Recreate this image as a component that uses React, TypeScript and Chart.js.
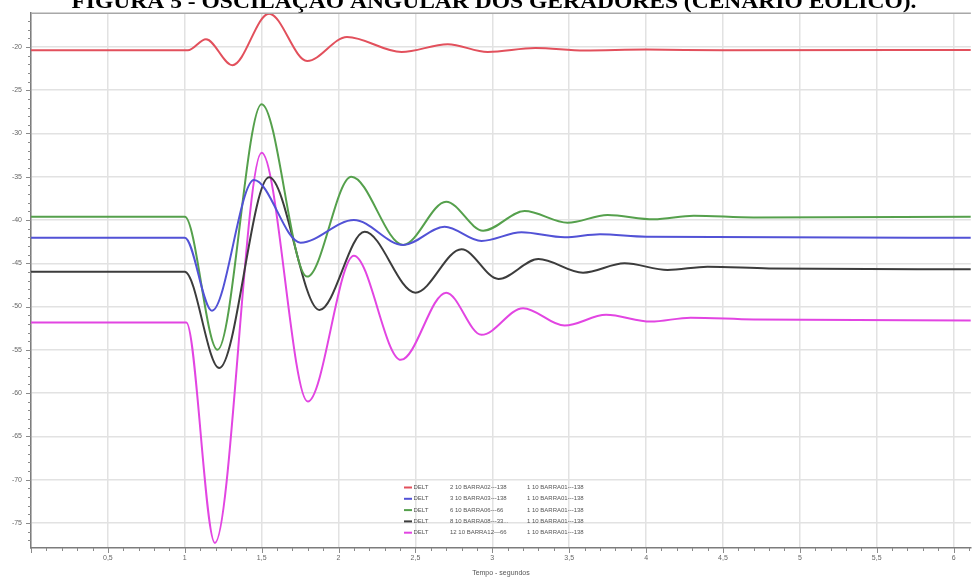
import React, { useEffect, useRef } from "react";
import { Chart, registerables } from "chart.js";

Chart.register(...registerables);

const TITLE = "FIGURA 5 - OSCILAÇÃO ANGULAR DOS GERADORES (CENÁRIO EÓLICO).";
const X_TITLE = "Tempo - segundos";

// Time axis range (s) and angle axis range (graus)
const X_MIN = 0;
const X_MAX = 6.112;
const Y_MIN = -77.9;
const Y_MAX = -16.1;

// DELT 2 10 BARRA02---138
const redT = [0, 1.02, 1.138, 1.31, 1.548, 1.796, 2.055, 2.41, 2.71, 2.97, 3.28, 3.6, 4.0, 4.5, 6.112];
const redV = [-20.38, -20.38, -19.11, -22.11, -16.15, -21.62, -18.85, -20.58, -19.69, -20.58, -20.12, -20.4, -20.3, -20.38, -20.35];

// DELT 3 10 BARRA03---138
const blueT = [0, 1.0, 1.177, 1.45, 1.753, 2.1, 2.42, 2.69, 2.93, 3.19, 3.47, 3.7, 4.0, 6.112];
const blueV = [-42.04, -42.04, -50.47, -35.38, -42.62, -40.0, -42.88, -40.77, -42.42, -41.42, -42.0, -41.65, -41.93, -42.04];

// DELT 6 10 BARRA06---66
const greenT = [0, 1.0, 1.213, 1.5, 1.796, 2.083, 2.42, 2.7, 2.94, 3.21, 3.49, 3.75, 4.05, 4.31, 4.7, 6.112];
const greenV = [-39.62, -39.62, -55.0, -26.61, -46.54, -35.0, -42.88, -37.89, -41.23, -38.96, -40.31, -39.42, -39.92, -39.5, -39.7, -39.62];

// DELT 8 10 BARRA08---33
const blackT = [0, 1.0, 1.224, 1.548, 1.876, 2.17, 2.5, 2.8, 3.04, 3.3, 3.59, 3.86, 4.14, 4.4, 4.8, 6.112];
const blackV = [-45.97, -45.97, -57.11, -35.07, -50.39, -41.35, -48.39, -43.38, -46.81, -44.5, -46.08, -45.0, -45.77, -45.39, -45.6, -45.69];

// DELT 12 10 BARRA12---66
const magentaT = [0, 1.01, 1.196, 1.5, 1.8, 2.1, 2.405, 2.7, 2.93, 3.2, 3.47, 3.74, 4.03, 4.29, 4.7, 6.112];
const magentaV = [-51.85, -51.85, -77.31, -32.23, -60.97, -44.12, -56.16, -48.39, -53.27, -50.19, -52.2, -50.96, -51.74, -51.28, -51.5, -51.6];

const VARIABLE = "DELT";
const LEGEND_FROM = [
  "2 10 BARRA02---138",
  "3 10 BARRA03---138",
  "6 10 BARRA06---66",
  "8 10 BARRA08---33...",
  "12 10 BARRA12---66",
];
const LEGEND_TO = [
  "1 10 BARRA01---138",
  "1 10 BARRA01---138",
  "1 10 BARRA01---138",
  "1 10 BARRA01---138",
  "1 10 BARRA01---138",
];
const COLORS = ["#e2505c", "#5252d6", "#55a04c", "#3c3c3c", "#e245e2"];

const SERIES = [
  [redT, redV],
  [blueT, blueV],
  [greenT, greenV],
  [blackT, blackV],
  [magentaT, magentaV],
];

const isMultiple = (v: number, step: number) => Math.abs(v / step - Math.round(v / step)) < 1e-6;
const fmt = (v: number) => String(Math.round(v * 100) / 100).replace(".", ",");

const decorPlugin = {
  id: "decor",
  beforeDraw(chart: any) {
    const ctx = chart.ctx;
    ctx.save();
    ctx.fillStyle = "#000";
    ctx.font = 'bold 20px "Liberation Serif", serif';
    ctx.textAlign = "center";
    ctx.textBaseline = "alphabetic";
    const w = ctx.measureText(TITLE).width;
    ctx.translate(494, 8);
    ctx.scale(845 / w, 1);
    ctx.fillText(TITLE, 0, 0);
    ctx.restore();
  },
  afterDraw(chart: any) {
    const ctx = chart.ctx;
    const area = chart.chartArea;
    const xs = chart.scales.x;
    const ys = chart.scales.y;
    ctx.save();
    // top frame line
    ctx.strokeStyle = "#a8a8a8";
    ctx.lineWidth = 1.5;
    ctx.beginPath();
    ctx.moveTo(area.left, area.top);
    ctx.lineTo(area.right, area.top);
    ctx.stroke();
    // tick marks, longer on labelled ticks
    ctx.strokeStyle = "#8a8a8a";
    ctx.lineWidth = 1;
    ctx.beginPath();
    xs.ticks.forEach((t: any) => {
      const px = Math.round(xs.getPixelForValue(t.value)) + 0.5;
      const len = isMultiple(t.value, 0.5) ? 5 : 3;
      ctx.moveTo(px, area.bottom);
      ctx.lineTo(px, area.bottom + len);
    });
    ys.ticks.forEach((t: any) => {
      const py = Math.round(ys.getPixelForValue(t.value)) + 0.5;
      const len = isMultiple(t.value, 5) ? 5 : 3;
      ctx.moveTo(area.left - len, py);
      ctx.lineTo(area.left, py);
    });
    ctx.stroke();

    // legend block
    const rowY0 = 487.5;
    const rowGap = 11.3;
    ctx.font = '6px "Liberation Sans", sans-serif';
    ctx.textBaseline = "middle";
    ctx.textAlign = "left";
    LEGEND_FROM.forEach((from, i) => {
      const y = rowY0 + i * rowGap;
      ctx.strokeStyle = COLORS[i];
      ctx.lineWidth = 2;
      ctx.beginPath();
      ctx.moveTo(404, y);
      ctx.lineTo(412, y);
      ctx.stroke();
      ctx.fillStyle = "#555";
      ctx.fillText(VARIABLE, 413.5, y);
      ctx.fillText(from, 450, y);
      ctx.fillText(LEGEND_TO[i], 527, y);
    });
    ctx.restore();
  },
};

export default function App() {
  const ref = useRef<HTMLCanvasElement | null>(null);

  useEffect(() => {
    if (!ref.current) return;
    const datasets = SERIES.map(([ts, vs], i) => ({
      label: `${VARIABLE} ${LEGEND_FROM[i]} ${LEGEND_TO[i]}`,
      data: ts.map((t, k) => ({ x: t, y: vs[k] })),
      borderColor: COLORS[i],
      backgroundColor: COLORS[i],
      borderWidth: 2,
      pointRadius: 0,
      fill: false,
      cubicInterpolationMode: "monotone" as const,
    }));

    const chart = new Chart(ref.current, {
      type: "line",
      data: { datasets },
      options: {
        animation: false,
        responsive: false,
        maintainAspectRatio: false,
        layout: { padding: { top: 13, left: 0, right: 0, bottom: 0 } },
        plugins: {
          legend: { display: false },
          tooltip: { enabled: false },
          title: { display: false },
        },
        scales: {
          x: {
            type: "linear",
            min: X_MIN,
            max: X_MAX,
            afterFit: (s: any) => {
              s.height = 30;
            },
            ticks: {
              stepSize: 0.1,
              autoSkip: false,
              includeBounds: false,
              maxRotation: 0,
              padding: 6,
              color: "#666",
              font: { size: 7, family: "Liberation Sans" },
              callback: (v: any) => (v > 0 && isMultiple(v, 0.5) ? fmt(v) : ""),
            },
            grid: {
              drawTicks: false,
              lineWidth: 1.5,
              color: (c: any) =>
                c.tick && isMultiple(c.tick.value, 0.5) ? "#e2e2e2" : "rgba(0,0,0,0)",
            },
            border: { display: true, color: "#7c7c7c", width: 1.5 },
            title: {
              display: true,
              text: X_TITLE,
              color: "#555",
              font: { size: 7, family: "Liberation Sans" },
              padding: { top: 0, bottom: 1 },
            },
          },
          y: {
            type: "linear",
            min: Y_MIN,
            max: Y_MAX,
            afterFit: (s: any) => {
              s.width = 31;
            },
            ticks: {
              stepSize: 1,
              autoSkip: false,
              includeBounds: false,
              padding: 9,
              color: "#666",
              font: { size: 7, family: "Liberation Sans" },
              callback: (v: any) => (isMultiple(v, 5) ? fmt(v) : ""),
            },
            grid: {
              drawTicks: false,
              lineWidth: 1.5,
              color: (c: any) =>
                c.tick && isMultiple(c.tick.value, 5) ? "#e2e2e2" : "rgba(0,0,0,0)",
            },
            border: { display: true, color: "#7c7c7c", width: 1.5 },
          },
        },
      },
      plugins: [decorPlugin],
    });
    return () => chart.destroy();
  }, []);

  return (
    <div
      style={{
        position: "fixed",
        left: 0,
        top: 0,
        width: 975,
        height: 578,
        background: "#fff",
      }}
    >
      <canvas ref={ref} width={975} height={578} style={{ display: "block" }} />
    </div>
  );
}
